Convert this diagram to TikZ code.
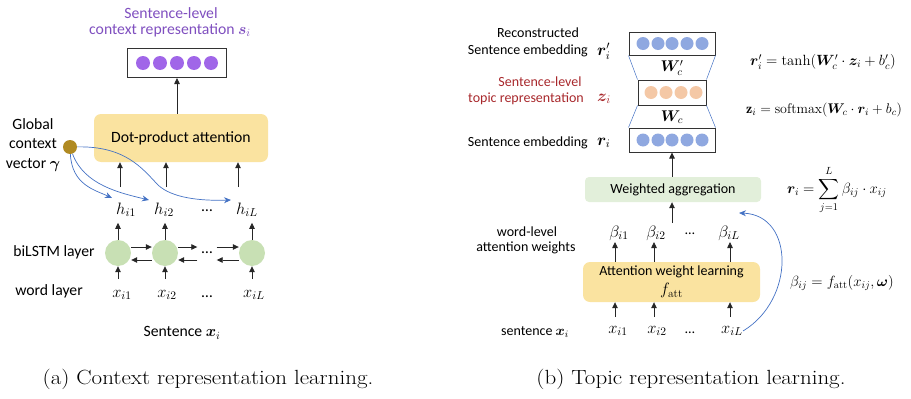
\RequirePackage{fix-cm}
\documentclass[tikz,border=0pt]{standalone}
\usepackage{amsmath,bm}
\usepackage{fontspec}
\setsansfont{Carlito}
\newfontfamily\capfont[FakeStretch=1.12]{Latin Modern Roman}
\usetikzlibrary{arrows.meta,calc}
\definecolor{purptxt}{HTML}{7F4FBF}
\definecolor{purpdot}{HTML}{A066E8}
\definecolor{golddot}{HTML}{B08A22}
\definecolor{arrblue}{HTML}{4472C4}
\definecolor{yelfill}{HTML}{FAE3A0}
\definecolor{grncirc}{HTML}{C8E0B4}
\definecolor{grnfill}{HTML}{E2EFDA}
\definecolor{bluedot}{HTML}{8FA8E0}
\definecolor{peachdot}{HTML}{F4C8A6}
\definecolor{redtxt}{HTML}{A8282C}
\begin{document}
\begin{tikzpicture}[x=1pt,y=-1pt,
  lbl/.style={font=\sffamily\fontsize{15.7}{17}\selectfont, inner sep=0pt},
  rlbl/.style={font=\sffamily\fontsize{14}{16}\selectfont, inner sep=0pt},
  mth/.style={font=\fontsize{16.5}{18}\selectfont, inner sep=0pt},
  eqn/.style={font=\fontsize{14.8}{17}\selectfont, inner sep=0pt, anchor=west},
  arr/.style={-{Triangle[length=6pt,width=5.5pt]}, line width=0.8pt, black!85},
  barr/.style={-{Stealth[length=7pt,width=6pt]}, line width=0.7pt, arrblue},
  vecbox/.style={draw=black!80, line width=1pt, inner sep=0pt},
  rbox/.style={rounded corners=7pt, inner sep=0pt, align=center},
  captxt/.style={font=\capfont\fontsize{20.5}{22}\selectfont, inner sep=0pt}
]
\useasboundingbox (0,0) rectangle (911,399);

% ================= LEFT PANEL =================
\node[lbl, text=purptxt] (ttl1) at (171,13) {Sentence-level};
\node[lbl, text=purptxt] (ttl2) at (170,30) {context representation $\bm{s}_i$};
\node[vecbox, minimum width=99pt, minimum height=29pt] (s) at (177,63) {};
\foreach \xx in {143,160,177,194,211} \fill[purpdot] (\xx,63) circle (7pt);

\node[rbox, lbl, fill=yelfill, minimum width=174pt, minimum height=48pt] (dot) at (181,138) {Dot-product attention};
\draw[arr] (s.south |- dot.north) -- (s.south);

\node[lbl, align=center, font=\sffamily\fontsize{15.7}{19.5}\selectfont] (glob) at (33,145) {Global\\context\\vector $\bm{\gamma}$};
\node[circle, fill=golddot, minimum size=14pt, inner sep=0pt] (g) at (70,147) {};

% hidden states
\node[mth] (h1) at (126,210) {$h_{i1}$};
\node[mth] (h2) at (164,210) {$h_{i2}$};
\node[lbl] (hd) at (207,211) {\dots};
\node[mth] (hL) at (247,210) {$h_{iL}$};

% arrows into dot-product box
\coordinate (a1) at (120,187);
\coordinate (a2) at (166,187);
\coordinate (a3) at (238,187);
\draw[arr] (a1) -- (a1 |- dot.south);
\draw[arr] (a2) -- (a2 |- dot.south);
\draw[arr] (a3) -- (a3 |- dot.south);

% blue curves
\coordinate (t1) at (112,198);
\coordinate (t2) at (149,200);
\coordinate (t3) at (231,200);
\draw[barr] (g) .. controls (72,185) and (95,190) .. (t1);
\draw[barr] (g) .. controls (84,185) and (120,193) .. (t2);
\draw[barr] (g) .. controls (125,146) and (142,168) .. (158,185) .. controls (172,198) and (200,201) .. (t3);

% biLSTM
\node[circle, fill=grncirc, minimum size=26pt, inner sep=0pt] (c1) at (118,253) {};
\node[circle, fill=grncirc, minimum size=26pt, inner sep=0pt] (c2) at (165,253) {};
\node[lbl, minimum width=19pt] (cd) at (207,253) {\dots};
\node[circle, fill=grncirc, minimum size=26pt, inner sep=0pt] (c3) at (252,253) {};

\draw[arr] ($(c1.east)+(0,-6)$) -- ($(c2.west)+(0,-6)$);
\draw[arr] ($(c2.east)+(0,-6)$) -- ($(cd.west)+(0,-6)$);
\draw[arr] ($(cd.east)+(0,-6)$) -- ($(c3.west)+(0,-6)$);
\draw[arr] ($(c2.west)+(0,7)$) -- ($(c1.east)+(0,7)$);
\draw[arr] ($(cd.west)+(0,7)$) -- ($(c2.east)+(0,7)$);
\draw[arr] ($(c3.west)+(0,7)$) -- ($(cd.east)+(0,7)$);

\draw[arr] (c1.north) -- ($(c1.north)+(0,-17)$);
\draw[arr] (c2.north) -- ($(c2.north)+(0,-17)$);
\draw[arr] (c3.north) -- ($(c3.north)+(0,-17)$);

% words
\node[mth] (x1) at (122,295) {$x_{i1}$};
\node[mth] (x2) at (167,295) {$x_{i2}$};
\node[lbl] (xd) at (207,297) {\dots};
\node[mth] (xL) at (254,295) {$x_{iL}$};
\draw[arr] ($(c1.south)+(0,13)$) -- (c1.south);
\draw[arr] ($(c2.south)+(0,13)$) -- (c2.south);
\draw[arr] ($(c3.south)+(0,13)$) -- (c3.south);

\node[lbl] (bil) at (54,252) {biLSTM layer};
\node[lbl] (wl) at (49,291) {word layer};
\node[lbl] (sent) at (182,333) {Sentence $\bm{x}_i$};

% ================= RIGHT PANEL =================
\node[rlbl] (rec1) at (538,33) {Reconstructed};
\node[rlbl, anchor=east] (rec2) at (588,51) {Sentence embedding};
\node[mth, anchor=west] (rpl) at (597,51) {$\bm{r}_i'$};
\node[rlbl, text=redtxt] (tp1) at (540,82) {Sentence-level};
\node[rlbl, text=redtxt, anchor=east] (tp2) at (584,99) {topic representation};
\node[mth, anchor=west, text=redtxt] (zl) at (597,99) {$\bm{z}_i$};
\node[rlbl, anchor=east] (se) at (588,143) {Sentence embedding};
\node[mth, anchor=west] (rl) at (597,143) {$\bm{r}_i$};

\node[vecbox, minimum width=86pt, minimum height=23pt] (T) at (672,43.5) {};
\node[vecbox, minimum width=68pt, minimum height=25pt] (M) at (672,92.5) {};
\node[vecbox, minimum width=86pt, minimum height=24pt] (B) at (672,140) {};
\foreach \xx in {643,658,672,687,702} {\fill[bluedot] (\xx,43.5) circle (6.5pt); \fill[bluedot] (\xx,140) circle (6.5pt);}
\foreach \xx in {651,666,681,696} \fill[peachdot] (\xx,92.5) circle (6.5pt);
\draw[arrblue, line width=0.5pt] (T.south west) -- (M.north west);
\draw[arrblue, line width=0.5pt] (T.south east) -- (M.north east);
\draw[arrblue, line width=0.5pt] (M.south west) -- (B.north west);
\draw[arrblue, line width=0.5pt] (M.south east) -- (B.north east);
\node[mth, font=\fontsize{15.5}{17}\selectfont] (wp) at (672,68) {$\bm{W}_c'$};
\node[mth, font=\fontsize{15.5}{17}\selectfont] (w) at (672,117) {$\bm{W}_c$};

\node[rbox, rlbl, rounded corners=4pt, fill=grnfill, minimum width=176pt, minimum height=25pt] (wa) at (673,189.5) {Weighted aggregation};
\draw[arr] (wa.north -| B.south) -- (B.south);
\coordinate (wb) at (672,223);
\draw[arr] (wb) -- (wb |- wa.south);

\node[mth] (b1) at (619,233) {$\beta_{i1}$};
\node[mth] (b2) at (656,233) {$\beta_{i2}$};
\node[rlbl] (bd) at (690,234) {\dots};
\node[mth] (bL) at (729,233) {$\beta_{iL}$};

\node[rbox, fill=yelfill, minimum width=177pt, minimum height=40pt, font=\sffamily\fontsize{14}{19}\selectfont] (att) at (671.5,282) {Attention weight learning\\{\fontsize{16.5}{19}\selectfont$f_{\mathrm{att}}$}};

\coordinate (p1) at (615,242);
\coordinate (p2) at (654,242);
\coordinate (p3) at (730,242);
\draw[arr] (p1 |- att.north) -- (p1);
\draw[arr] (p2 |- att.north) -- (p2);
\draw[arr] (p3 |- att.north) -- (p3);
\coordinate (q1) at (615,317);
\coordinate (q2) at (654,317);
\coordinate (q3) at (730,317);
\draw[arr] (q1) -- (q1 |- att.south);
\draw[arr] (q2) -- (q2 |- att.south);
\draw[arr] (q3) -- (q3 |- att.south);

\node[mth] (y1) at (618,331) {$x_{i1}$};
\node[mth] (y2) at (657,331) {$x_{i2}$};
\node[rlbl] (yd) at (690,333) {\dots};
\node[mth] (yL) at (732,331) {$x_{iL}$};

\node[rlbl] (wl1) at (527,232) {word-level};
\node[rlbl] (wl2) at (526,248) {attention weights};
\node[rlbl] (sx) at (535,332) {sentence $\bm{x}_i$};

\coordinate (wain) at (739,213);
\draw[barr] (yL.east) .. controls (795,300) and (795,215) .. (wain);

% equations
\node[eqn] (e1) at (750,62) {$\bm{r}_i' = \tanh(\bm{W}_c' \cdot \bm{z}_i + b_c')$};
\node[eqn, font=\fontsize{14}{16}\selectfont] (e2) at (746,110) {$\mathbf{z}_i = \mathrm{softmax}(\bm{W}_c \cdot \bm{r}_i + b_c)$};
\node[eqn] (e3) at (787,190) {$\displaystyle \bm{r}_i = \sum_{j=1}^{L} \beta_{ij} \cdot x_{ij}$};
\node[eqn] (e4) at (790,283) {$\beta_{ij} = f_{\mathrm{att}}(x_{ij}, \bm{\omega})$};

% captions
\node[captxt] (capa) at (208,379) {(a) Context representation learning.};
\node[captxt] (capb) at (691,379) {(b) Topic representation learning.};
\end{tikzpicture}
\end{document}
